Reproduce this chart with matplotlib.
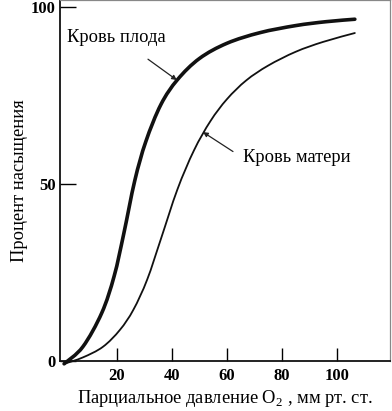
import matplotlib
matplotlib.use("Agg")
import matplotlib.pyplot as plt
from matplotlib.path import Path
from matplotlib.patches import PathPatch

# curves: pO2 (mm Hg) vs saturation (%)
fetal_x = [0.8, 7.6, 14.5, 19, 22.5, 26.5, 30.5, 36, 42, 50, 60, 72, 85, 96, 106.5]
fetal_y = [-0.8, 4, 13.6, 24, 36, 51, 62, 72.5, 79.5, 85.5, 89.8, 92.8, 94.8, 95.9, 96.6]

mother_x = [0.8, 7.6, 14.9, 21.1, 26, 31, 36, 42, 48, 54, 60, 67, 75, 85, 95, 106.5]
mother_y = [-0.8, 1.0, 4, 8.8, 14.5, 23, 34.5, 48.5, 59.5, 67.8, 74, 79.3, 83.5, 87.4, 90.2, 92.7]

xticks = [20, 40, 60, 80, 100]
yticks = [0, 50, 100]

plt.rcParams['font.family'] = ['Liberation Serif', 'DejaVu Serif']
plt.rcParams['mathtext.fontset'] = 'custom'
plt.rcParams['mathtext.rm'] = 'Liberation Serif'


def smooth_path(xs, ys):
    # Catmull-Rom through the read points, drawn as cubic Bezier segments
    pts = list(zip(xs, ys))
    verts = [pts[0]]
    codes = [Path.MOVETO]
    n = len(pts)
    for i in range(n - 1):
        p0 = pts[i - 1] if i > 0 else pts[i]
        p1 = pts[i]
        p2 = pts[i + 1]
        p3 = pts[i + 2] if i + 2 < n else pts[i + 1]
        c1 = (p1[0] + (p2[0] - p0[0]) / 6, p1[1] + (p2[1] - p0[1]) / 6)
        c2 = (p2[0] - (p3[0] - p1[0]) / 6, p2[1] - (p3[1] - p1[1]) / 6)
        verts += [c1, c2, p2]
        codes += [Path.CURVE4] * 3
    return Path(verts, codes)


fig = plt.figure(figsize=(3.92, 4.11), dpi=100)
ax = fig.add_axes([0.153, 0.1217, 0.842, 0.878])

ax.add_patch(PathPatch(smooth_path(fetal_x, fetal_y), fill=False, edgecolor='#111111',
                       lw=2.6, clip_on=False, capstyle='round'))
ax.add_patch(PathPatch(smooth_path(mother_x, mother_y), fill=False, edgecolor='#111111',
                       lw=1.3, clip_on=False, capstyle='round'))

ax.set_xlim(-0.7, 119.3)
ax.set_ylim(0, 102)
ax.set_xticks(xticks)
ax.set_yticks(yticks)
ax.set_xticklabels([str(t) for t in xticks], fontsize=12, fontweight='bold')
ax.set_yticklabels([str(t) for t in yticks], fontsize=12, fontweight='bold')
ax.tick_params(axis='x', direction='in', length=9.5, width=1.0, pad=5)
ax.tick_params(axis='y', direction='in', length=11.5, width=1.0, pad=3)

for s in ['left', 'bottom']:
    ax.spines[s].set_linewidth(1.3)
    ax.spines[s].set_color('#111111')
for s in ['top', 'right']:
    ax.spines[s].set_linewidth(0.9)
    ax.spines[s].set_color('#888888')

ax.set_xlabel('Парциальное давление O$_2$ , мм рт. ст.', fontsize=13.3, labelpad=3)
ax.set_ylabel('Процент насыщения', fontsize=13.3, labelpad=2)

arrow = dict(arrowstyle='-|>', color='#222222', lw=0.9, mutation_scale=7, shrinkA=0, shrinkB=0)
ax.annotate('', xy=(41.8, 79.4), xytext=(31.3, 85.3), arrowprops=arrow)
ax.text(2, 91.5, 'Кровь плода', fontsize=13.3, ha='left', va='center')
ax.annotate('', xy=(51.3, 64.7), xytext=(62.2, 59.2), arrowprops=arrow)
ax.text(66, 57.5, 'Кровь матери', fontsize=13.3, ha='left', va='center')

fig.savefig('out.png', dpi=100)
